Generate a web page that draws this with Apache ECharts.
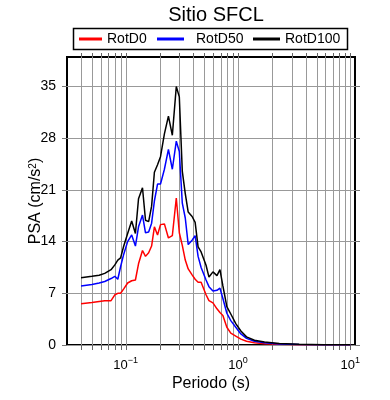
<!DOCTYPE html>
<html><head><meta charset="utf-8">
<script src="https://cdn.jsdelivr.net/npm/echarts@6/dist/echarts.min.js"></script>
<style>html,body{margin:0;padding:0;background:#fff}#c{width:390px;height:400px}</style>
</head><body><div id="c"></div>
<script>
const periods = [0.04, 0.05, 0.058, 0.065, 0.074, 0.08, 0.085, 0.09, 0.096, 0.104,
  0.113, 0.122, 0.13, 0.141, 0.15, 0.16, 0.17, 0.18, 0.192, 0.204,
  0.221, 0.24, 0.26, 0.282, 0.3, 0.319, 0.339, 0.36, 0.39, 0.415,
  0.441, 0.469, 0.488, 0.519, 0.551, 0.598, 0.649, 0.69, 0.733, 0.795,
  0.862, 0.955, 1.06, 1.19, 1.4, 1.72, 2.33, 3.5, 5.82, 10];
const rotD0 = [5.6, 5.75, 5.9, 6.0, 6.0, 6.8, 7.0, 7.0, 7.6, 8.4,
  8.7, 8.8, 11.0, 12.8, 12.0, 12.5, 13.4, 16.0, 14.9, 16.3,
  16.4, 14.5, 14.8, 19.9, 15.2, 13.5, 11.5, 10.3, 9.5, 8.9,
  8.5, 8.5, 8.5, 6.8, 6.0, 5.7, 4.9, 4.4, 4.0, 2.4,
  1.6, 1.2, 0.8, 0.5, 0.3, 0.18, 0.1, 0.05, 0.03, 0.02];
const rotD50 = [8.0, 8.2, 8.4, 8.6, 9.0, 9.3, 8.9, 10.6, 12.3, 14.0,
  14.9, 13.4, 16.0, 17.6, 15.2, 15.3, 16.5, 19.5, 21.8, 21.8,
  23.8, 26.5, 23.8, 27.6, 26.2, 19.2, 17.2, 13.6, 14.2, 14.8,
  12.0, 10.5, 10.4, 8.8, 7.9, 7.3, 7.4, 7.7, 6.3, 4.3,
  3.3, 2.4, 1.5, 0.9, 0.5, 0.3, 0.15, 0.08, 0.04, 0.02];
const rotD100 = [9.1, 9.3, 9.45, 9.7, 10.2, 10.85, 11.5, 11.8, 13.4, 15.1,
  16.8, 15.1, 19.8, 21.3, 16.9, 16.7, 18.8, 23.4, 24.4, 25.5,
  28.6, 31.0, 28.4, 35.0, 33.6, 23.5, 20.5, 18.0, 17.4, 16.6,
  13.3, 12.6, 12.5, 10.8, 9.2, 9.9, 9.4, 10.2, 8.0, 5.2,
  4.2, 2.9, 1.9, 1.1, 0.65, 0.4, 0.2, 0.1, 0.05, 0.03];
const seriesNames = ['RotD0', 'RotD50', 'RotD100'];
const yTicks = [0, 7, 14, 21, 28, 35];
const xMajorTicks = [0.1, 1, 10];
const xGridTicks = [0.04, 0.05, 0.06, 0.07, 0.08, 0.09, 0.1,
  0.2, 0.3, 0.4, 0.5, 0.6, 0.7, 0.8, 0.9, 1,
  2, 3, 4, 5, 6, 7, 8, 9, 10];

const FONT = '"Liberation Sans", Arial, Helvetica, sans-serif';
const Y_MIN = 0, Y_MAX = 39;
const pair = arr => periods.map((t, i) => [t, arr[i]]);
const chart = echarts.init(document.getElementById('c'), null, {renderer: 'canvas'});

function supLabel(v) {
  const e = Math.round(Math.log10(v));
  return '10{sup|' + (e < 0 ? '\u2212' + (-e) : e) + '}';
}

const legendBase = {top: 32, padding: 0, itemHeight: 3, icon: 'rect',
  textStyle: {fontSize: 14, color: '#000', fontFamily: FONT}};

const option = {
  animation: false,
  textStyle: {fontFamily: FONT},
  title: {text: 'Sitio SFCL', left: 211, top: 0, textAlign: 'center',
    textStyle: {fontSize: 20, fontWeight: 'normal', color: '#000', fontFamily: FONT}},
  legend: [
    Object.assign({}, legendBase, {data: [seriesNames[0]], left: 79, itemWidth: 23}),
    Object.assign({}, legendBase, {data: [seriesNames[1]], left: 157, itemWidth: 27,
      textStyle: Object.assign({}, legendBase.textStyle, {padding: [0, 0, 0, 7]})}),
    Object.assign({}, legendBase, {data: [seriesNames[2]], left: 253, itemWidth: 27})
  ],
  graphic: [{type: 'rect', shape: {x: 73.5, y: 28.5, width: 274, height: 21},
    style: {fill: 'none', stroke: '#000', lineWidth: 1.5}, z: 10}],
  grid: {left: 67, top: 57, width: 288, height: 288, show: true,
    borderColor: '#000', borderWidth: 2, backgroundColor: 'transparent'},
  xAxis: {
    type: 'log', logBase: 10, min: 0.03, max: 11,
    name: 'Periodo (s)', nameLocation: 'middle', nameGap: 31, nameMoveOverlap: false,
    nameTextStyle: {fontSize: 16, color: '#000', fontFamily: FONT},
    axisLine: {show: false}, axisTick: {show: false}, splitLine: {show: false},
    axisLabel: {customValues: xMajorTicks, margin: 11, fontSize: 13, lineHeight: 18,
      color: '#000', fontFamily: FONT, formatter: supLabel,
      rich: {sup: {fontSize: 9, lineHeight: 9, verticalAlign: 'top', color: '#000', fontFamily: FONT}}}
  },
  yAxis: [
    {type: 'value', min: Y_MIN, max: Y_MAX, interval: 7,
      name: 'PSA (cm/s{sup|2})', nameLocation: 'middle', nameGap: 23, nameMoveOverlap: false,
      nameTextStyle: {fontSize: 16, color: '#000', fontFamily: FONT,
        rich: {sup: {fontSize: 10, verticalAlign: 'top', color: '#000', fontFamily: FONT}}},
      axisLine: {show: false},
      axisTick: {show: true, inside: false, length: 5, customValues: yTicks, lineStyle: {color: '#777'}},
      axisLabel: {customValues: yTicks, margin: 11, fontSize: 14, color: '#000', fontFamily: FONT},
      splitLine: {show: true, lineStyle: {color: '#999', width: 1}}},
    {type: 'value', min: Y_MIN, max: Y_MAX, interval: 7, position: 'right',
      axisLine: {show: false},
      axisTick: {show: true, inside: false, length: 5, customValues: yTicks, lineStyle: {color: '#777'}},
      axisLabel: {show: false}, splitLine: {show: false}}
  ],
  series: [
    {type: 'custom', silent: true, clip: false, z: 1, encode: {x: 0, y: 1},
      data: xGridTicks.map(v => [v, 0]),
      renderItem: function (params, api) {
        const pb = api.coord([api.value(0), Y_MIN]);
        const pt = api.coord([api.value(0), Y_MAX]);
        const xs = Math.round(pb[0]) + 0.5;
        return {type: 'group', children: [
          {type: 'line', shape: {x1: xs, y1: pb[1], x2: xs, y2: pt[1]}, style: {stroke: '#999', lineWidth: 1}},
          {type: 'line', shape: {x1: xs, y1: pb[1], x2: xs, y2: pb[1] + 5}, style: {stroke: '#666', lineWidth: 1}},
          {type: 'line', shape: {x1: xs, y1: pt[1] - 4, x2: xs, y2: pt[1]}, style: {stroke: '#666', lineWidth: 1}}
        ]};
      }},
    {type: 'line', name: seriesNames[0], data: pair(rotD0), symbol: 'none', z: 3,
      lineStyle: {color: '#ff0000', width: 1.5}, itemStyle: {color: '#ff0000'}},
    {type: 'line', name: seriesNames[1], data: pair(rotD50), symbol: 'none', z: 4,
      lineStyle: {color: '#0000ff', width: 1.5}, itemStyle: {color: '#0000ff'}},
    {type: 'line', name: seriesNames[2], data: pair(rotD100), symbol: 'none', z: 5,
      lineStyle: {color: '#000000', width: 1.5}, itemStyle: {color: '#000000'}}
  ]
};
chart.setOption(option);
</script>
</body></html>
